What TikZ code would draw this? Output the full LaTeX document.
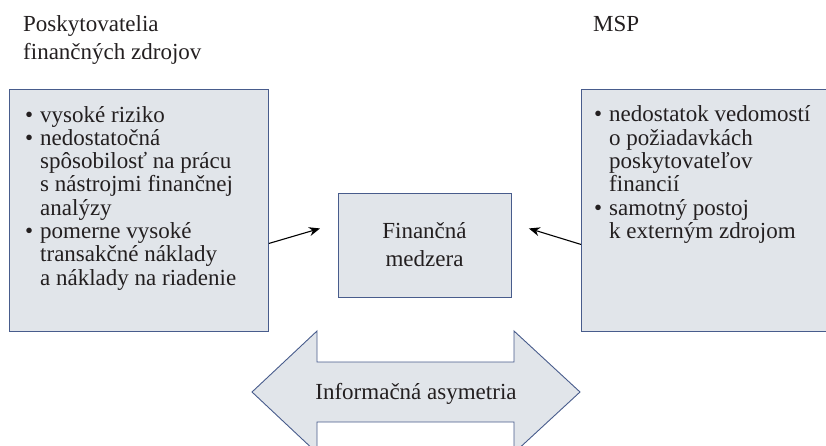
\documentclass[tikz,border=0pt]{standalone}
\usepackage{fontspec}
\setmainfont{Liberation Serif}
\usetikzlibrary{arrows.meta}
\definecolor{boxfill}{RGB}{225,229,234}
\definecolor{boxline}{RGB}{72,92,140}
\definecolor{txt}{RGB}{35,31,32}
\newcommand{\bul}{\makebox[15pt][l]{\textbullet}}
\newcommand{\ind}{\hspace*{15pt}}
\begin{document}
\begin{tikzpicture}[x=1pt,y=-1pt,
  panel/.style={draw=boxline, fill=boxfill, line width=0.9pt, inner sep=0pt},
  bodytext/.style={font=\fontsize{23}{23.3}\selectfont, text=txt, inner sep=0pt, align=left},
  headtext/.style={font=\fontsize{23}{27.3}\selectfont, text=txt, inner sep=0pt, align=left},
  conn/.style={-{Stealth[length=11pt,width=9pt]}, line width=1.1pt, black}]
\useasboundingbox (0,0) rectangle (826,446);
\clip (0,0) rectangle (826,446);
% panels
\node[panel, minimum width=259pt, minimum height=242pt, anchor=north west] (left) at (9,89) {};
\node[panel, minimum width=259pt, minimum height=242pt, anchor=north west] (right) at (581,89) {};
\node[panel, minimum width=173pt, minimum height=104pt, anchor=north west] (mid) at (338,193) {};
% headers (anchor base = baseline of last line)
\node[headtext, anchor=base west] (hl) at (23,59.3) {Poskytovatelia\\finančných zdrojov};
\node[headtext, anchor=base west] (hr) at (593,32) {MSP};
% panel texts
\node[bodytext, anchor=base west] (lt) at (25,285.1) {\bul vysoké riziko\\
\bul nedostatočná\\
\ind spôsobilosť na prácu\\
\ind s nástrojmi finančnej\\
\ind analýzy\\
\bul pomerne vysoké\\
\ind transakčné náklady\\
\ind a náklady na riadenie};
\node[bodytext, anchor=base west] (rt) at (594,238.5) {\bul nedostatok vedomostí\\
\ind o požiadavkách\\
\ind poskytovateľov\\
\ind financií\\
\bul samotný postoj\\
\ind k externým zdrojom};
\node[headtext, align=center, anchor=base] (mt) at (424.5,266) {Finančná\\medzera};
% connectors
\draw[conn] ([yshift=-33pt]left.east) -- ([xshift=-18pt,yshift=17pt]mid.west);
\draw[conn] ([yshift=-34pt]right.west) -- ([xshift=17pt,yshift=17pt]mid.east);
% double arrow
\draw[draw=boxline, fill=boxfill, line width=0.9pt, line join=miter]
  (252,392) -- (317,331) -- (317,362) -- (514,362) -- (514,331) -- (580,392)
  -- (514,453) -- (514,422) -- (317,422) -- (317,453) -- cycle;
\node[bodytext, anchor=base] (info) at (416,399) {Informačná asymetria};
\end{tikzpicture}
\end{document}
